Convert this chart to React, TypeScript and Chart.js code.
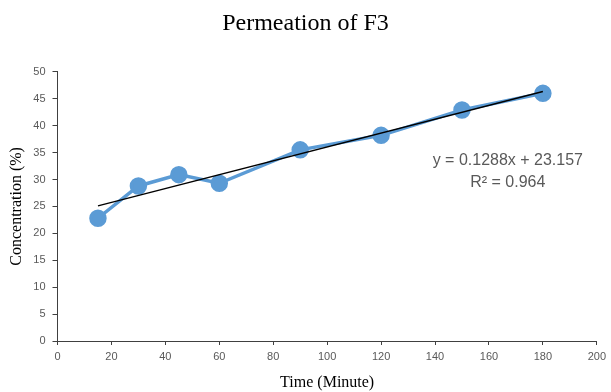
import React, { useEffect, useRef } from "react";
import { Chart, registerables } from "chart.js";

Chart.register(...registerables);

const timeMinutes = [15, 30, 45, 60, 90, 120, 150, 180];
const concentration = [22.8, 28.8, 30.9, 29.3, 35.5, 38.2, 42.9, 46.0];
const trendSlope = 0.1288;
const trendIntercept = 23.157;
const trendRange = [15, 180];
const equationLines = ["y = 0.1288x + 23.157", "R² = 0.964"];
const equationAnchor = { x: 167, y: 33.5 };

const equationPlugin = {
  id: "equationLabel",
  afterDatasetsDraw(chart: any) {
    const { ctx, scales } = chart;
    const x = scales.x.getPixelForValue(equationAnchor.x);
    const y = scales.y.getPixelForValue(equationAnchor.y);
    ctx.save();
    ctx.font = '16px "Liberation Sans", Arial, sans-serif';
    ctx.fillStyle = "#595959";
    ctx.textAlign = "center";
    ctx.textBaseline = "middle";
    equationLines.forEach((line, i) => {
      ctx.fillText(line, x, y + i * 22);
    });
    ctx.restore();
  },
};

export default function App() {
  const canvasRef = useRef<HTMLCanvasElement | null>(null);

  useEffect(() => {
    if (!canvasRef.current) return;
    const points = timeMinutes.map((t, i) => ({ x: t, y: concentration[i] }));
    const trend = trendRange.map((t) => ({ x: t, y: trendSlope * t + trendIntercept }));
    const axisColor = "#404040";
    const tickFont = { family: '"Liberation Sans", Arial, sans-serif', size: 11 };
    const titleFont = { family: '"Liberation Serif", "Times New Roman", serif', size: 16 };

    const chart = new Chart(canvasRef.current, {
      type: "line",
      data: {
        datasets: [
          {
            label: "F3",
            data: points,
            borderColor: "#5B9BD5",
            backgroundColor: "#5B9BD5",
            borderWidth: 3.5,
            pointRadius: 7,
            pointHoverRadius: 7,
            pointBackgroundColor: "#5B9BD5",
            pointBorderColor: "#5B9BD5",
            tension: 0,
            order: 2,
          },
          {
            label: "Linear (F3)",
            data: trend,
            borderColor: "#000000",
            borderWidth: 1.3,
            pointRadius: 0,
            tension: 0,
            order: 1,
          },
        ],
      },
      options: {
        responsive: false,
        animation: false,
        layout: { padding: { left: 0, right: 0, top: 0, bottom: 0 } },
        plugins: {
          legend: { display: false },
          tooltip: { enabled: false },
          title: {
            display: true,
            text: "Permeation of F3",
            color: "#000000",
            font: { family: '"Liberation Serif", "Times New Roman", serif', size: 24, weight: "normal" },
            padding: { top: 9.5, bottom: 33.5 },
          },
        },
        scales: {
          x: {
            type: "linear",
            min: 0,
            max: 200,
            ticks: { stepSize: 20, color: "#595959", font: tickFont, padding: 5, maxRotation: 0 },
            grid: { drawOnChartArea: false, drawTicks: true, tickLength: 4, color: axisColor },
            border: { color: axisColor, width: 1 },
            title: {
              display: true,
              text: "Time (Minute)",
              color: "#000000",
              font: titleFont,
              padding: { top: 0, bottom: 0 },
            },
            afterFit: (scale: any) => {
              scale.height = 51;
            },
          },
          y: {
            min: 0,
            max: 50,
            ticks: { stepSize: 5, color: "#595959", font: tickFont, padding: 7 },
            grid: { drawOnChartArea: false, drawTicks: true, tickLength: 5, color: axisColor },
            border: { color: axisColor, width: 1 },
            title: {
              display: true,
              text: "Concentration (%)",
              color: "#000000",
              font: titleFont,
              padding: { top: 7, bottom: 0 },
            },
            afterFit: (scale: any) => {
              scale.width = 57.5;
            },
          },
        },
      },
      plugins: [equationPlugin],
    });
    return () => chart.destroy();
  }, []);

  return (
    <div style={{ position: "fixed", left: 0, top: 0, width: 611, height: 392, background: "#fff" }}>
      <canvas ref={canvasRef} width={611} height={392} style={{ display: "block" }} />
    </div>
  );
}
